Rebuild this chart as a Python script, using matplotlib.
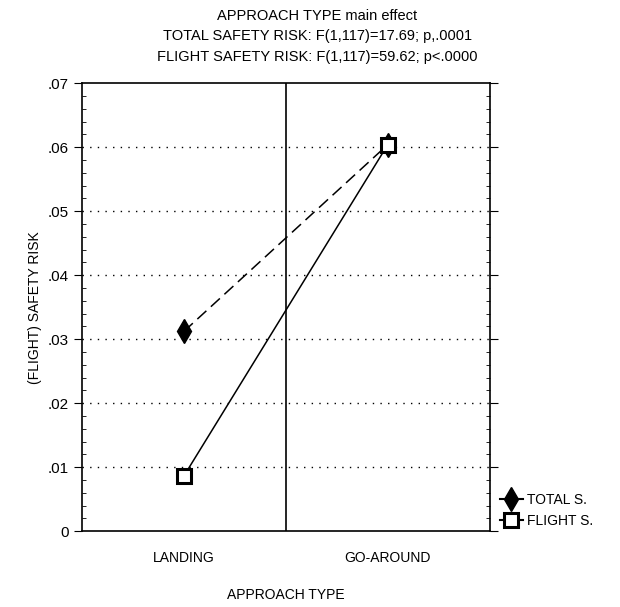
import matplotlib
matplotlib.use('Agg')
import matplotlib.pyplot as plt
from matplotlib.ticker import MultipleLocator, FuncFormatter
from matplotlib.lines import Line2D

plt.rcParams['font.family'] = ['Liberation Sans Narrow', 'Liberation Sans', 'DejaVu Sans']

# data
categories = ['LANDING', 'GO-AROUND']
total_risk = [0.0312, 0.0604]
flight_risk = [0.0086, 0.0604]
yticks = [0, .01, .02, .03, .04, .05, .06, .07]

fig = plt.figure(figsize=(6.2, 6.07), dpi=100)
ax = fig.add_axes([0.132, 0.125, 0.658, 0.738])

xpos = [1, 3]
ax.plot(xpos, total_risk, color='black', lw=1.1, dashes=(8, 4),
        marker='d', markersize=12, markerfacecolor='black')
ax.plot(xpos, flight_risk, color='black', lw=1.1, ls='-',
        marker='s', markersize=10, markerfacecolor='white', markeredgewidth=2.2)

ax.axvline(2, color='black', lw=1.2)
for y in yticks[1:-1]:
    ax.axhline(y, color='black', lw=1.0, ls=(0, (1, 4.5)), zorder=0)

ax.set_xlim(0, 4)
ax.set_ylim(0, 0.07)
ax.set_xticks(xpos)
ax.set_xticklabels(categories, fontsize=10)
ax.tick_params(axis='x', length=0, pad=14)
ax.set_yticks(yticks)
ax.yaxis.set_major_formatter(FuncFormatter(lambda v, p: '0' if v == 0 else ('%.2f' % v)[1:]))
ax.yaxis.set_minor_locator(MultipleLocator(0.002))
ax.tick_params(axis='y', which='major', direction='out', length=6, labelsize=11, right=True)
ax.tick_params(axis='y', which='minor', direction='in', length=3, right=True)
for s in ax.spines.values():
    s.set_linewidth(1.2)

ax.set_xlabel('APPROACH TYPE', fontsize=10, labelpad=17)
ax.set_ylabel('(FLIGHT) SAFETY RISK', fontsize=10, labelpad=4)

fig.text(0.512, 0.974, 'APPROACH TYPE main effect', ha='center', va='center', fontsize=10.5)
fig.text(0.512, 0.940, 'TOTAL SAFETY RISK: F(1,117)=17.69; p,.0001', ha='center', va='center', fontsize=10.5)
fig.text(0.512, 0.906, 'FLIGHT SAFETY RISK: F(1,117)=59.62; p<.0000', ha='center', va='center', fontsize=10.5)

handles = [
    Line2D([], [], color='black', lw=1.5, marker='d', markersize=12, markerfacecolor='black'),
    Line2D([], [], color='black', lw=1.5, marker='s', markersize=10,
           markerfacecolor='white', markeredgewidth=2.2),
]
ax.legend(handles, ['TOTAL S.', 'FLIGHT S.'], loc='center left',
          bbox_to_anchor=(1.0, 0.046), frameon=False,
          fontsize=10, handlelength=1.7, handletextpad=0.3, labelspacing=0.55,
          borderaxespad=0.3)

fig.savefig('out.png', dpi=100)
